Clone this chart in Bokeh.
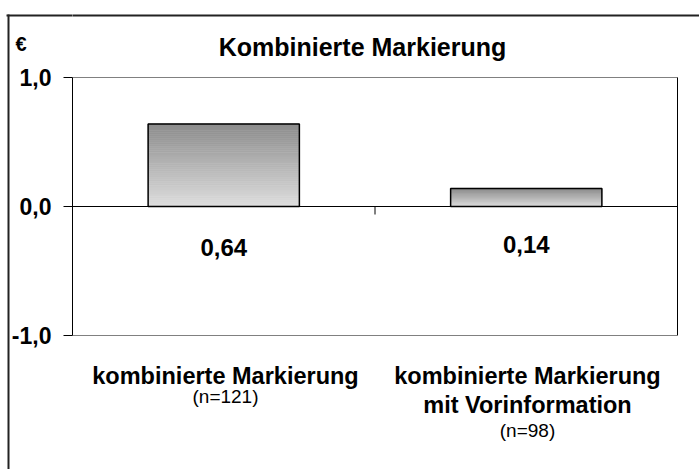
from bokeh.plotting import figure
from bokeh.models import Range1d, FixedTicker, Span, Label, LinearAxis
from bokeh.embed import file_html
from bokeh.resources import INLINE

# ---- data ----
cat_line1 = ["kombinierte Markierung", "kombinierte Markierung"]
cat_line2 = ["", "mit Vorinformation"]
sample_sizes = ["(n=121)", "(n=98)"]
values = [0.64, 0.14]
value_labels = ["0,64", "0,14"]
y_ticks = [-1.0, 0.0, 1.0]
y_tick_labels = ["-1,0", "0,0", "1,0"]
title_text = "Kombinierte Markierung"
unit_text = "€"

FONT = "Liberation Sans"
n_cat = len(values)

# ---- layout (pixels) ----
W, H = 699, 469
AX_LEFT, AX_RIGHT = 72, 677      # plot-area left / right
AX_TOP, AX_BOTTOM = 77, 335      # y of max / min tick
ppu_y = (AX_BOTTOM - AX_TOP) / (max(y_ticks) - min(y_ticks))
ppu_x = (AX_RIGHT - AX_LEFT) / n_cat
y_zero_px = AX_TOP + max(y_ticks) * ppu_y

def ydata(py):
    return (y_zero_px - py) / ppu_y

def xdata(px):
    return (px - AX_LEFT) / ppu_x

x_end = xdata(W)
y_start, y_end = ydata(H), ydata(0)

p = figure(width=W, height=H, output_backend="svg", toolbar_location=None,
           x_range=Range1d(0, x_end), y_range=Range1d(y_start, y_end),
           x_axis_location=None,
           min_border_left=AX_LEFT, min_border_right=0, min_border_top=0, min_border_bottom=0,
           background_fill_color="white", border_fill_color="white")
p.title = None
p.grid.visible = False
p.outline_line_color = None

ya = p.yaxis[0]
ya.ticker = FixedTicker(ticks=y_ticks)
ya.bounds = (min(y_ticks), max(y_ticks))
ya.major_label_overrides = {t: l for t, l in zip(y_ticks, y_tick_labels)}
ya.minor_tick_line_color = None
ya.major_tick_in = 0
ya.major_tick_out = 9
ya.major_tick_line_color = "black"
ya.axis_line_color = "black"
ya.major_label_standoff = 12
ya.major_label_text_font = FONT
ya.major_label_text_font_style = "bold"
ya.major_label_text_font_size = "23px"
ya.major_label_text_color = "black"

# outer chart-area border (left edge + top-left piece) as an axis
y_border = ydata(15)
border_axis = LinearAxis(ticker=FixedTicker(ticks=[y_border]),
                         bounds=(y_start, y_border + 1 / ppu_y),
                         major_label_overrides={y_border: ""}, major_label_standoff=0,
                         major_tick_in=AX_LEFT - 8, major_tick_out=2,
                         major_tick_line_color="#222222", major_tick_line_width=2,
                         minor_tick_line_color=None,
                         axis_line_color="#222222", axis_line_width=2)
p.add_layout(border_axis, "left")

# unit label "€" as an axis label
y_euro = ydata(43)
euro_axis = LinearAxis(ticker=FixedTicker(ticks=[y_euro]), major_label_overrides={y_euro: unit_text},
                       major_label_standoff=-20, major_tick_in=0, major_tick_out=0,
                       major_tick_line_color=None, minor_tick_line_color=None,
                       axis_line_color=None,
                       major_label_text_font=FONT, major_label_text_font_style="bold",
                       major_label_text_font_size="20px", major_label_text_color="black")
p.add_layout(euro_axis, "left")

# top border inside the frame
p.add_layout(Span(location=y_border, dimension="width", line_color="#222222", line_width=2))

# plot-area border
ymin, ymax = min(y_ticks), max(y_ticks)
p.segment(x0=[0, n_cat, 0], x1=[n_cat, n_cat, n_cat], y0=[ymax, ymin, ymin], y1=[ymax, ymax, ymin],
          line_color=["#808080", "black", "#808080"], line_width=1)

# gradient bars (stacked thin slices)
N = 40
half = 0.25
dark, light = 140, 222
for i, v in enumerate(values):
    cx = i + 0.5
    lefts, rights, bottoms, tops, colors = [], [], [], [], []
    for k in range(N):
        t = (k + 0.5) / N
        g = int(round(light - t * (light - dark)))
        c = "#%02x%02x%02x" % (g, g, g)
        lefts.append(cx - half)
        rights.append(cx + half)
        bottoms.append(v * k / N)
        tops.append(v * (k + 1) / N)
        colors.append(c)
    p.quad(left=lefts, right=rights, bottom=bottoms, top=tops,
           fill_color=colors, line_color=colors, line_width=0.6)

p.quad(left=[i + 0.5 - half for i in range(n_cat)], right=[i + 0.5 + half for i in range(n_cat)],
       bottom=[0] * n_cat, top=values, fill_alpha=0, line_color="black", line_width=1.5)

# zero line and category divider tick
p.segment(x0=[0], x1=[n_cat], y0=[0], y1=[0], line_color="black", line_width=1)
p.segment(x0=list(range(1, n_cat)), x1=list(range(1, n_cat)),
          y0=[0] * (n_cat - 1), y1=[-8 / ppu_y] * (n_cat - 1), line_color="black", line_width=1)

def lab(x, y, text, size, bold=True):
    p.add_layout(Label(x=x, y=y, text=text, text_align="center", text_baseline="middle",
                       text_font=FONT, text_font_style="bold" if bold else "normal",
                       text_font_size=size, text_color="black"))

# value labels
value_label_px = [247, 244]
for i, labtxt in enumerate(value_labels):
    lab(i + 0.5, ydata(value_label_px[i]), labtxt, "24px")

# category labels
label_cx_px = [225, 527]
for i in range(n_cat):
    cx = xdata(label_cx_px[i])
    lab(cx, ydata(375), cat_line1[i], "23.5px")
    if cat_line2[i]:
        lab(cx, ydata(404), cat_line2[i], "23.5px")
        lab(cx, ydata(430), sample_sizes[i], "19px", bold=False)
    else:
        lab(cx, ydata(396), sample_sizes[i], "19px", bold=False)

# title
lab(xdata(362), ydata(46), title_text, "25px")

open("out.html", "w").write(file_html(p, INLINE))
